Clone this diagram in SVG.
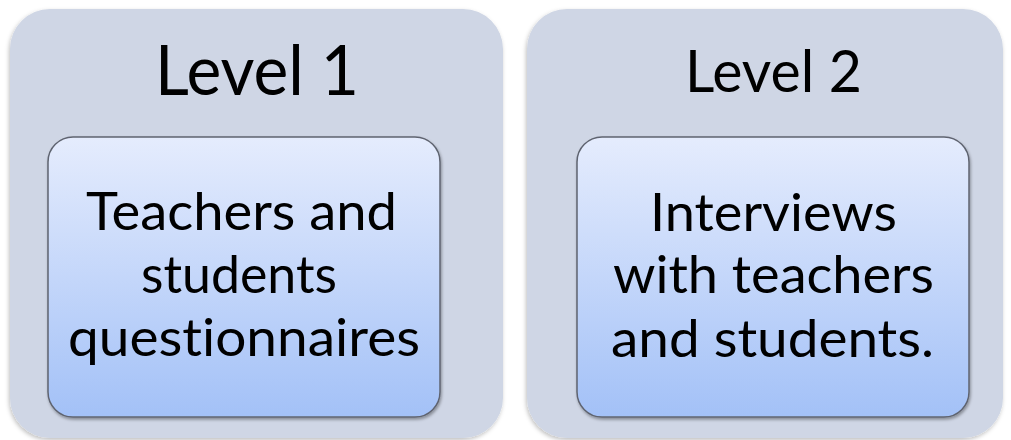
<svg xmlns="http://www.w3.org/2000/svg" width="1011" height="440" viewBox="0 0 1011 440">
  <defs>
    <linearGradient id="innerGrad" x1="0" y1="0" x2="0" y2="1">
      <stop offset="0" stop-color="#e5ecfd"/>
      <stop offset="1" stop-color="#a3c1f7"/>
    </linearGradient>
    <filter id="outerShadow" x="-5%" y="-5%" width="110%" height="110%">
      <feDropShadow dx="-1" dy="2" stdDeviation="2" flood-color="#000" flood-opacity="0.25"/>
    </filter>
    <filter id="innerShadow" x="-5%" y="-5%" width="110%" height="110%">
      <feDropShadow dx="1" dy="2" stdDeviation="1.5" flood-color="#000" flood-opacity="0.35"/>
    </filter>
  </defs>
  <style>
    .outer { fill: #cfd6e5; filter: url(#outerShadow); }
    .inner { fill: url(#innerGrad); stroke: #5f6470; stroke-width: 1.5; filter: url(#innerShadow); }
    .title { font-family: Lato, "Open Sans", "Liberation Sans", sans-serif; fill: #000; text-anchor: middle; font-variant-ligatures: none; font-feature-settings: "liga" 0, "dlig" 0; }
    .body { font-family: Lato, "Open Sans", "Liberation Sans", sans-serif; font-size: 52px; fill: #000; text-anchor: middle; font-variant-ligatures: none; font-feature-settings: "liga" 0, "dlig" 0; }
  </style>
  <rect width="1011" height="440" fill="#ffffff"/>
  <g id="level1">
    <rect class="outer" x="10" y="9" width="493" height="429" rx="40" ry="40"/>
    <text class="title" x="257" y="95" font-size="70" textLength="204" lengthAdjust="spacingAndGlyphs">Level 1</text>
    <g id="level1-content">
      <rect class="inner" x="48" y="137" width="392" height="280" rx="25" ry="25"/>
      <text class="body" x="241.5" y="230" textLength="311" lengthAdjust="spacingAndGlyphs">Teachers and</text>
      <text class="body" x="239" y="293" textLength="196" lengthAdjust="spacingAndGlyphs">students</text>
      <text class="body" x="244" y="356" textLength="352" lengthAdjust="spacingAndGlyphs">questionnaires</text>
    </g>
  </g>
  <g id="level2">
    <rect class="outer" x="527" y="9" width="476" height="429" rx="40" ry="40"/>
    <text class="title" x="773.5" y="92" font-size="59" textLength="177" lengthAdjust="spacingAndGlyphs">Level 2</text>
    <g id="level2-content">
      <rect class="inner" x="577" y="137" width="392" height="280" rx="25" ry="25"/>
      <text class="body" x="773.5" y="231" textLength="247" lengthAdjust="spacingAndGlyphs">Interviews</text>
      <text class="body" x="773.5" y="293" textLength="321" lengthAdjust="spacingAndGlyphs">with teachers</text>
      <text class="body" x="772.5" y="357" textLength="323" lengthAdjust="spacingAndGlyphs">and students.</text>
    </g>
  </g>
  <g id="connectors"/>
</svg>
